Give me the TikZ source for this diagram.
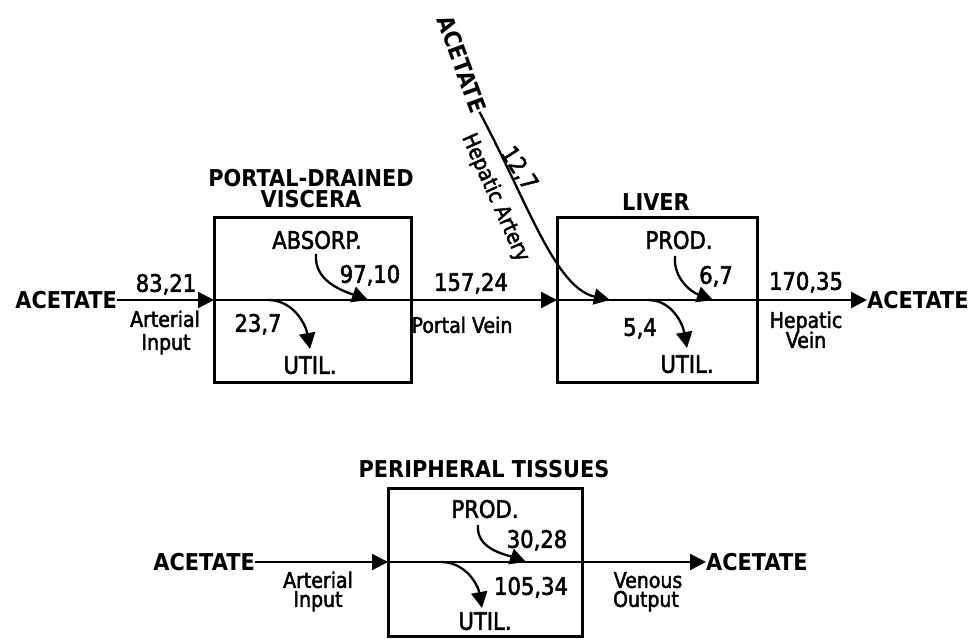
\documentclass[tikz,border=0pt]{standalone}
\usepackage{fontspec}
\setmainfont{DejaVu Sans}
\newfontfamily\regf{DejaVu Sans}[FakeStretch=0.88,FakeBold=2.2]
\newfontfamily\boldf{DejaVu Sans}[FakeStretch=0.9]
\usetikzlibrary{arrows.meta}
\begin{document}
\begin{tikzpicture}[x=1pt,y=1pt,
  ttl/.style={inner sep=0pt, text height=16.9pt, text depth=0pt, font=\boldf\bfseries\fontsize{23.2}{23.2}\selectfont},
  capl/.style={inner sep=0pt, text height=17.5pt, text depth=0pt, font=\regf\fontsize{24}{24}\selectfont},
  num/.style={inner sep=0pt, text height=17.5pt, text depth=0pt, font=\regf\fontsize{24}{24}\selectfont},
  sml/.style={inner sep=0pt, text height=15.7pt, text depth=0pt, font=\regf\fontsize{21.5}{21.5}\selectfont},
  box/.style={draw, line width=3pt, inner sep=0pt, outer sep=0pt},
  flow/.style={line width=2.3pt, -{Triangle[length=16pt,width=16pt]}},
  plainline/.style={line width=2.3pt}
]
\useasboundingbox (0,0) rectangle (973,638);

% ---------- top row ----------
\node[box, minimum width=197pt, minimum height=164pt] (pdv) at (312.5,338) {};
\node[box, minimum width=200pt, minimum height=165pt] (liver) at (657,338) {};

\node[ttl, anchor=east] (acL) at (117,338) {ACETATE};
\node[ttl, anchor=west] (acR) at (867,338) {ACETATE};

\node[num] (n8321) at (166,355) {83,21};
\node[sml] (artA) at (165,319) {Arterial};
\node[sml] (artB) at (166,296) {Input};

\node[ttl] (pdvT1) at (311,460) {PORTAL-DRAINED};
\node[ttl] (pdvT2) at (311,439) {VISCERA};
\node[capl] (absorp) at (317,398) {ABSORP.};
\node[num] (n9710) at (370,364) {97,10};
\node[num] (n237) at (258,315) {23,7};
\node[capl] (util1) at (310,273) {UTIL.};

\node[num] (n15724) at (471,356) {157,24};
\node[sml] (portal) at (462,313) {Portal Vein};

\node[ttl] (livT) at (656,436) {LIVER};
\node[capl] (prod1) at (679,398) {PROD.};
\node[num] (n67) at (716,363) {6,7};
\node[num] (n54) at (640,311) {5,4};
\node[capl] (util2) at (687,274) {UTIL.};

\node[num] (n17035) at (806,357) {170,35};
\node[sml] (hvA) at (806,318) {Hepatic};
\node[sml] (hvB) at (806,298) {Vein};

% hepatic artery input
\node[ttl, rotate=-70] (acT) at (462,574) {ACETATE};
\node[num, rotate=-57] (n127) at (520,470) {12,7};
\node[sml, rotate=-66] (hart) at (497,441) {Hepatic Artery};
\coordinate (hepin) at (610,338);

\draw[flow] (acL.east) -- (pdv.west);
\draw[plainline] (pdv.west) -- (pdv.east);
\draw[flow] (pdv.east) -- (liver.west);
\draw[plainline] (liver.west) -- (liver.east);
\draw[flow] (liver.east) -- (acR.west);

\draw[flow] (acT.east) .. controls (527,437) and (555,350) .. (hepin);

\coordinate (pdvU0) at (268,338);
\coordinate (pdvU1) at (310,289);
\draw[flow] (pdvU0) to[out=0,in=100] (pdvU1);
\coordinate (pdvA0) at (316,384);
\coordinate (pdvA1) at (368,338);
\draw[flow] (pdvA0) to[out=-95,in=160] (pdvA1);

\coordinate (livP0) at (675,382);
\coordinate (livP1) at (713,338);
\draw[flow] (livP0) to[out=-95,in=160] (livP1);
\coordinate (livU0) at (648,338);
\coordinate (livU1) at (687,290);
\draw[flow] (livU0) to[out=0,in=100] (livU1);

% ---------- bottom row ----------
\node[box, minimum width=194pt, minimum height=148pt] (pt) at (485,76) {};
\node[ttl] (ptT) at (484,169) {PERIPHERAL TISSUES};

\node[ttl, anchor=east] (acL2) at (255,76) {ACETATE};
\node[ttl, anchor=west] (acR2) at (706,76) {ACETATE};
\node[sml] (art2A) at (318,58) {Arterial};
\node[sml] (art2B) at (318,39) {Input};
\node[sml] (venA) at (648,58) {Venous};
\node[sml] (venB) at (646,39) {Output};

\node[capl] (prod3) at (485,129) {PROD.};
\node[num] (n3028) at (537,99) {30,28};
\node[num] (n10534) at (531,52) {105,34};
\node[capl] (util3) at (485,17) {UTIL.};

\draw[flow] (acL2.east) -- (pt.west);
\draw[plainline] (pt.west) -- (pt.east);
\draw[flow] (pt.east) -- (acR2.west);

\coordinate (ptP0) at (478,113);
\coordinate (ptP1) at (526,76);
\draw[flow] (ptP0) to[out=-95,in=160] (ptP1);
\coordinate (ptU0) at (441,76);
\coordinate (ptU1) at (482,30);
\draw[flow] (ptU0) to[out=0,in=100] (ptU1);
\end{tikzpicture}
\end{document}
